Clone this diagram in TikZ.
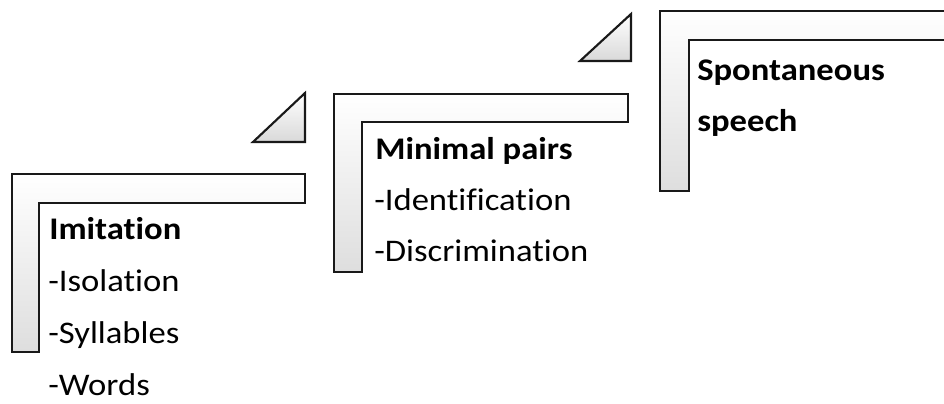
\documentclass[tikz,border=0pt]{standalone}
\usepackage{fontspec}
\setmainfont{Carlito}[FakeStretch=1.1, Ligatures=NoCommon, RawFeature=-liga]
\begin{document}
\begin{tikzpicture}[x=0.75pt,y=-0.75pt,
  stairstep/.style={draw=black!90, line width=1.6pt, line join=miter, top color=white, bottom color=black!13},
  wedge/.style={draw=black!90, line width=1.6pt, line join=miter, top color=white, bottom color=black!15},
  lbl/.style={anchor=base west, inner sep=0pt, font=\fontsize{23.6pt}{28pt}\selectfont},
  head/.style={lbl, font=\fontsize{23.6pt}{28pt}\selectfont\bfseries}]
\useasboundingbox (0,0) rectangle (944,403);
\clip (0,0) rectangle (944,403);
% step 1
\path[stairstep] (12,174) -- (305,174) -- (305,203) -- (39,203) -- (39,352) -- (12,352) -- cycle;
% step 2
\path[stairstep] (334,94) -- (628,94) -- (628,122) -- (362,122) -- (362,272) -- (334,272) -- cycle;
% step 3
\path[stairstep] (960,40) -- (689,40) -- (689,191) -- (660,191) -- (660,11) -- (960,11);
% triangles
\path[wedge] (253,142) -- (305,93) -- (305,142) -- cycle;
\path[wedge] (580,61) -- (631,14) -- (631,61) -- cycle;
% texts
\node[head] (t1) at (49,239) {Imitation};
\node[lbl] (t1a) at (48,291) {-Isolation};
\node[lbl] (t1b) at (48,343) {-Syllables};
\node[lbl] (t1c) at (48,395) {-Words};
\node[head] (t2) at (375,159) {Minimal pairs};
\node[lbl] (t2a) at (374,210) {-Identification};
\node[lbl] (t2b) at (374,261) {-Discrimination};
\node[head] (t3) at (697,80) {Spontaneous};
\node[head] (t3a) at (697,131) {speech};
\end{tikzpicture}
\end{document}
